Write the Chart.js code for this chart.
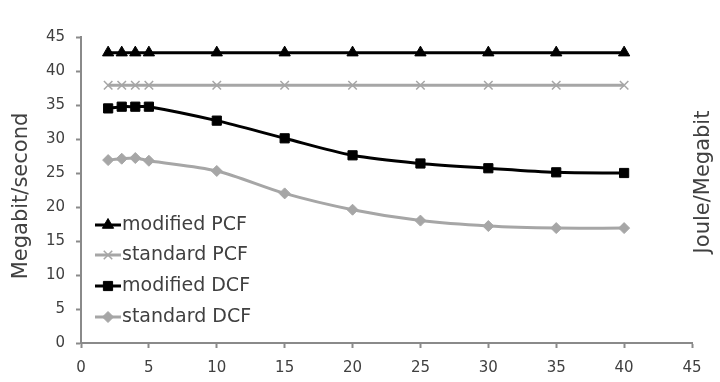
<!DOCTYPE html>
<html><head><meta charset="utf-8">
<script src="https://cdn.jsdelivr.net/npm/chart.js@4"></script>
<style>html,body{margin:0;padding:0;background:#fff}#w{width:720px;height:382px}</style>
</head><body><div id="w"><canvas id="c"></canvas></div>
<script>
const xValues = [2, 3, 4, 5, 10, 15, 20, 25, 30, 35, 40];
const modifiedPCF = [42.7, 42.7, 42.7, 42.7, 42.7, 42.7, 42.7, 42.7, 42.7, 42.7, 42.7];
const standardPCF = [37.9, 37.9, 37.9, 37.9, 37.9, 37.9, 37.9, 37.9, 37.9, 37.9, 37.9];
const modifiedDCF = [34.5, 34.75, 34.75, 34.75, 32.7, 30.1, 27.6, 26.4, 25.7, 25.1, 25.0];
const standardDCF = [26.9, 27.1, 27.2, 26.8, 25.3, 22.0, 19.6, 18.0, 17.2, 16.9, 16.9];
const seriesNames = ['modified PCF', 'standard PCF', 'modified DCF', 'standard DCF'];
const axisTicks = [0, 5, 10, 15, 20, 25, 30, 35, 40, 45];
const leftTitle = 'Megabit/second';
const rightTitle = 'Joule/Megabit';

const FONT = "'DejaVu Sans', sans-serif";
const GRAY = '#a6a6a6';
const AX = '#8a8a8a';
const TXT = '#404040';
const pts = arr => xValues.map((x, i) => ({x, y: arr[i]}));

const styles = [
  {color:'#000', style:'triangle', r:6.5},
  {color:GRAY, style:'crossRot', r:6},
  {color:'#000', style:'rect', r:6.5},
  {color:GRAY, style:'rectRot', r:5.5}
];
const dataArrs = [modifiedPCF, standardPCF, modifiedDCF, standardDCF];

const datasets = dataArrs.map((d, i) => ({
  label: seriesNames[i],
  data: pts(d),
  borderColor: styles[i].color,
  backgroundColor: styles[i].color,
  pointBackgroundColor: styles[i].color,
  pointBorderColor: styles[i].color,
  pointStyle: styles[i].style,
  pointRadius: styles[i].r,
  pointBorderWidth: styles[i].style === 'crossRot' ? 1.5 : 1,
  borderWidth: 3,
  tension: 0.3,
  yAxisID: 'y'
}));

const overlayPlugin = {
  id: 'overlay',
  afterDatasetsDraw(chart) {
    const ctx = chart.ctx;
    const rows = [225, 255, 286, 317];
    ctx.save();
    datasets.forEach((ds, i) => {
      const y = rows[i];
      ctx.strokeStyle = ds.borderColor;
      ctx.lineWidth = 3;
      ctx.beginPath(); ctx.moveTo(95, y); ctx.lineTo(121, y); ctx.stroke();
      ctx.fillStyle = ds.borderColor;
      ctx.strokeStyle = ds.borderColor;
      ctx.lineWidth = ds.pointBorderWidth;
      Chart.helpers.drawPoint(ctx, {pointStyle: ds.pointStyle, radius: ds.pointRadius, borderWidth: ds.pointBorderWidth, rotation: 0}, 108, y);
      ctx.fillStyle = TXT;
      ctx.font = "19px " + FONT;
      ctx.textBaseline = 'middle';
      ctx.textAlign = 'left';
      ctx.fillText(ds.label, 122, y);
    });
    ctx.fillStyle = TXT;
    ctx.font = "21px " + FONT;
    ctx.textAlign = 'center';
    ctx.textBaseline = 'middle';
    [[leftTitle, 22, 196], [rightTitle, 704, 182]].forEach(([t, x, y]) => {
      ctx.save(); ctx.translate(x, y); ctx.rotate(-Math.PI / 2); ctx.fillText(t, 0, 0); ctx.restore();
    });
    ctx.restore();
  }
};

new Chart(document.getElementById('c'), {
  type: 'line',
  data: {datasets},
  plugins: [overlayPlugin],
  options: {
    responsive: true, maintainAspectRatio: false, animation: false,
    layout: {padding: {top: 37, right: 0, bottom: 0, left: 0}},
    plugins: {legend: {display: false}, tooltip: {enabled: false}},
    scales: {
      x: {
        type: 'linear', min: 0, max: 45,
        afterBuildTicks: s => { s.ticks = axisTicks.map(v => ({value: v})); },
        afterFit: s => { s.height = 39; },
        grid: {display: true, drawOnChartArea: false, drawTicks: true, tickLength: 5, tickColor: AX, tickWidth: 2},
        border: {display: true, color: AX, width: 2},
        ticks: {color: TXT, font: {family: FONT, size: 15}, padding: 11, maxRotation: 0}
      },
      y: {
        position: 'left', min: 0, max: 45,
        afterBuildTicks: s => { s.ticks = axisTicks.map(v => ({value: v})); },
        afterFit: s => { s.width = 81; },
        grid: {display: true, drawOnChartArea: false, drawTicks: true, tickLength: 5, tickColor: AX, tickWidth: 2},
        border: {display: true, color: AX, width: 2},
        ticks: {color: TXT, font: {family: FONT, size: 15}, padding: 11}
      },
      y2: {
        position: 'right', min: 0, max: 45,
        afterFit: s => { s.width = 28; },
        grid: {display: false, drawOnChartArea: false},
        border: {display: false},
        ticks: {display: false}
      }
    }
  }
});
</script>
</body></html>
